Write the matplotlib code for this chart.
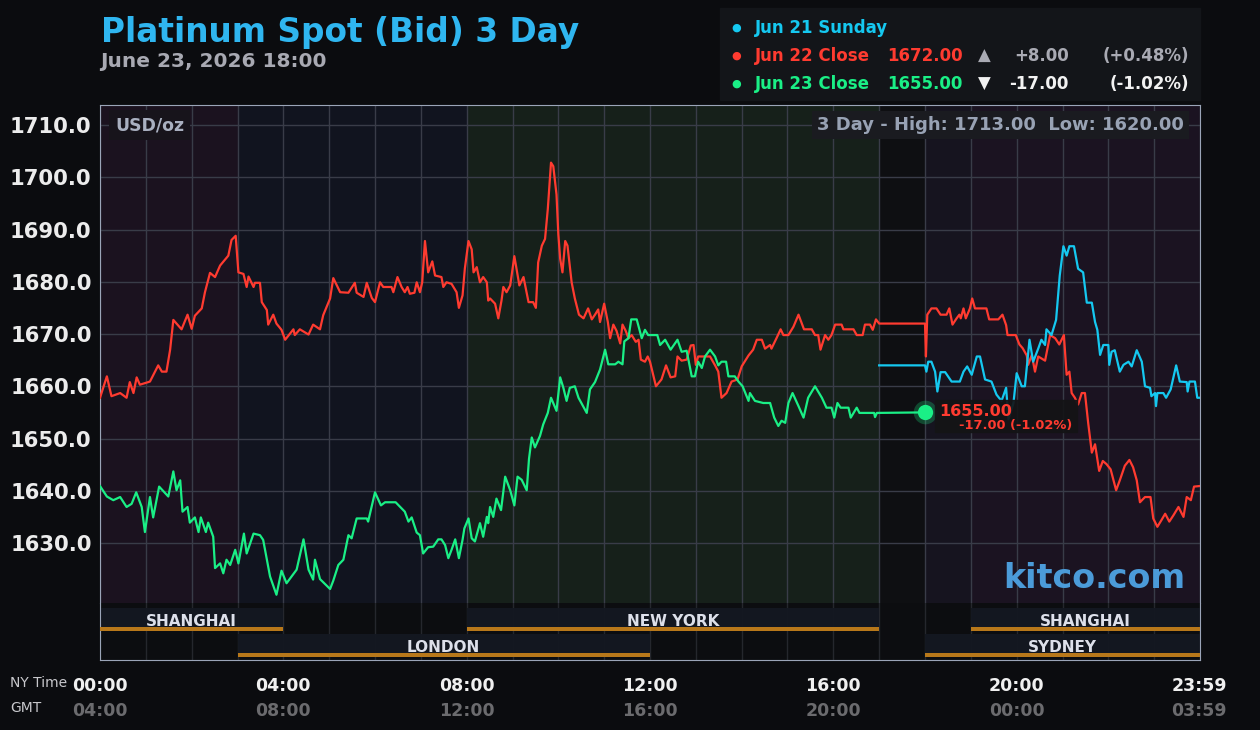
import matplotlib
matplotlib.use("Agg")
import matplotlib.pyplot as plt
from matplotlib.patches import Rectangle
from matplotlib.transforms import blended_transform_factory

# ---- data (hours in NY time, price in USD/oz) ----
red_t = [0.00, 0.15, 0.25, 0.44, 0.58, 0.65, 0.73, 0.80, 0.87, 1.09, 1.27, 1.35, 1.45, 1.53, 1.60, 1.78, 1.91,
         2.00, 2.07, 2.22, 2.29, 2.40, 2.51, 2.62, 2.80, 2.87, 2.96, 3.02, 3.13, 3.20, 3.24, 3.35, 3.38, 3.49,
         3.53, 3.64, 3.67, 3.78, 3.85, 3.96, 4.04, 4.22, 4.25, 4.36, 4.55, 4.65, 4.80, 4.87, 5.02, 5.09, 5.24,
         5.42, 5.56, 5.60, 5.75, 5.82, 5.93, 6.00, 6.11, 6.18, 6.36, 6.40, 6.49, 6.58, 6.65, 6.71, 6.76, 6.86,
         6.91, 6.98, 7.03, 7.09, 7.16, 7.25, 7.31, 7.45, 7.49, 7.56, 7.67, 7.78, 7.83, 7.91, 7.96, 8.04, 8.11,
         8.15, 8.22, 8.29, 8.36, 8.44, 8.47, 8.51, 8.62, 8.69, 8.76, 8.80, 8.87, 8.95, 9.04, 9.15, 9.24, 9.35,
         9.45, 9.51, 9.56, 9.64, 9.71, 9.77, 9.84, 9.89, 9.96, 10.00, 10.04, 10.09, 10.15, 10.20, 10.29, 10.36,
         10.45, 10.55, 10.65, 10.73, 10.80, 10.87, 10.91, 11.00, 11.08, 11.13, 11.20, 11.27, 11.35, 11.40,
         11.47, 11.53, 11.60, 11.69, 11.75, 11.80, 11.89, 11.95, 12.00, 12.13, 12.25, 12.35, 12.45, 12.55,
         12.60, 12.69, 12.80, 12.89, 12.95, 13.00, 13.05, 13.20, 13.31, 13.42, 13.49, 13.56, 13.67, 13.78,
         13.91, 14.00, 14.15, 14.25, 14.33, 14.44, 14.51, 14.62, 14.65, 14.76, 14.85, 14.91, 15.02, 15.13,
         15.24, 15.36, 15.53, 15.60, 15.67, 15.72, 15.82, 15.89, 15.96, 16.04, 16.18, 16.22, 16.44, 16.51,
         16.64, 16.69, 16.80, 16.86, 16.93, 17.00, 18.00, 18.02, 18.05, 18.14, 18.25, 18.34, 18.47, 18.53,
         18.60, 18.69, 18.75, 18.78, 18.84, 18.89, 18.98, 19.03, 19.09, 19.34, 19.40, 19.60, 19.69, 19.77,
         19.80, 19.98, 20.06, 20.13, 20.22, 20.25, 20.33, 20.40, 20.47, 20.62, 20.73, 20.84, 20.93, 21.03,
         21.09, 21.15, 21.20, 21.27, 21.34, 21.42, 21.49, 21.56, 21.64, 21.71, 21.80, 21.88, 21.96, 22.05,
         22.17, 22.25, 22.36, 22.46, 22.54, 22.62, 22.69, 22.80, 22.92, 22.98, 23.07, 23.16, 23.24, 23.33,
         23.42, 23.53, 23.64, 23.71, 23.80, 23.87, 23.99]
red_v = [1657.8, 1661.9, 1658.1, 1658.7, 1657.8, 1660.8, 1658.7, 1661.7, 1660.3, 1660.9, 1664.0, 1662.8, 1662.8,
         1667.0, 1672.7, 1670.9, 1673.7, 1671.0, 1673.5, 1674.9, 1678.0, 1681.7, 1680.9, 1683.1, 1685.0, 1688.0,
         1688.8, 1681.8, 1681.5, 1679.0, 1681.0, 1679.0, 1679.8, 1679.8, 1676.1, 1674.6, 1671.8, 1673.7, 1672.0,
         1670.8, 1668.9, 1670.9, 1669.8, 1670.9, 1669.9, 1671.8, 1670.9, 1673.6, 1676.8, 1680.7, 1678.0, 1677.9,
         1679.8, 1677.9, 1677.1, 1679.8, 1676.9, 1676.1, 1679.9, 1679.0, 1679.0, 1678.0, 1680.9, 1679.0, 1678.0,
         1679.0, 1677.7, 1677.9, 1679.9, 1678.0, 1679.9, 1687.8, 1681.8, 1683.9, 1681.2, 1680.9, 1679.0, 1679.9,
         1679.6, 1678.0, 1675.0, 1677.4, 1682.5, 1687.8, 1686.2, 1681.8, 1682.8, 1679.9, 1680.9, 1679.9, 1676.4,
         1676.8, 1675.8, 1673.0, 1676.4, 1679.0, 1678.0, 1679.3, 1684.9, 1679.3, 1680.9, 1676.1, 1676.1, 1675.0,
         1683.7, 1686.9, 1688.2, 1693.9, 1702.8, 1702.1, 1696.7, 1689.1, 1684.4, 1681.8, 1687.8, 1686.9, 1679.9,
         1676.8, 1673.7, 1673.0, 1674.9, 1672.8, 1673.7, 1674.7, 1672.3, 1675.8, 1672.3, 1669.2, 1671.8, 1670.6,
         1668.2, 1671.8, 1670.6, 1669.2, 1669.8, 1668.5, 1668.9, 1665.1, 1664.7, 1665.7, 1664.7, 1660.0, 1661.3,
         1664.0, 1661.7, 1661.9, 1665.7, 1664.9, 1665.1, 1667.8, 1667.9, 1664.1, 1665.7, 1665.7, 1665.7, 1664.0,
         1662.8, 1657.8, 1658.7, 1660.9, 1661.3, 1663.8, 1665.9, 1667.0, 1668.9, 1668.9, 1667.2, 1667.9, 1667.2,
         1669.2, 1670.9, 1669.8, 1669.8, 1671.4, 1673.7, 1670.9, 1670.9, 1669.8, 1669.8, 1667.0, 1669.8, 1668.9,
         1669.8, 1671.8, 1671.8, 1670.9, 1670.9, 1669.8, 1669.8, 1671.8, 1671.8, 1670.8, 1672.8, 1672.0, 1672.0,
         1665.7, 1673.7, 1674.9, 1674.9, 1673.7, 1673.7, 1674.9, 1671.8, 1673.0, 1673.7, 1673.0, 1674.9, 1673.0,
         1674.9, 1676.8, 1674.9, 1674.9, 1672.8, 1672.8, 1673.7, 1671.7, 1669.8, 1669.8, 1668.0, 1667.3, 1665.9,
         1664.1, 1666.0, 1662.8, 1665.7, 1664.9, 1669.8, 1669.2, 1668.0, 1669.8, 1662.2, 1662.8, 1658.7, 1657.8,
         1656.5, 1658.7, 1658.7, 1653.0, 1647.3, 1648.9, 1643.8, 1645.7, 1645.1, 1644.1, 1640.1, 1642.0, 1644.8,
         1645.9, 1644.5, 1642.0, 1637.8, 1638.8, 1638.8, 1634.7, 1633.1, 1634.4, 1635.6, 1634.1, 1635.3, 1636.9,
         1635.0, 1638.8, 1638.2, 1640.8, 1640.9]

green_t = [0.00, 0.15, 0.29, 0.44, 0.58, 0.69, 0.79, 0.91, 0.98, 1.09, 1.16, 1.29, 1.49, 1.60, 1.67, 1.75, 1.80,
           1.91, 1.96, 2.07, 2.15, 2.20, 2.31, 2.36, 2.47, 2.51, 2.62, 2.69, 2.76, 2.84, 2.95, 3.02, 3.14, 3.20,
           3.35, 3.49, 3.56, 3.71, 3.85, 3.96, 4.07, 4.29, 4.44, 4.55, 4.65, 4.69, 4.80, 5.02, 5.09, 5.20, 5.31,
           5.42, 5.49, 5.60, 5.82, 5.85, 6.00, 6.13, 6.22, 6.36, 6.45, 6.55, 6.65, 6.73, 6.80, 6.91, 6.98, 7.05,
           7.16, 7.27, 7.38, 7.45, 7.53, 7.60, 7.67, 7.75, 7.83, 7.91, 7.95, 8.04, 8.11, 8.18, 8.29, 8.36, 8.44,
           8.47, 8.51, 8.58, 8.65, 8.75, 8.84, 8.95, 9.04, 9.11, 9.20, 9.31, 9.36, 9.42, 9.49, 9.60, 9.67, 9.77,
           9.84, 9.96, 10.04, 10.11, 10.18, 10.25, 10.36, 10.44, 10.52, 10.62, 10.69, 10.80, 10.91, 11.02, 11.09,
           11.24, 11.31, 11.40, 11.44, 11.53, 11.59, 11.71, 11.82, 11.89, 11.96, 12.16, 12.22, 12.33, 12.45,
           12.60, 12.69, 12.80, 12.91, 12.98, 13.05, 13.13, 13.20, 13.31, 13.42, 13.49, 13.56, 13.66, 13.71,
           13.85, 13.93, 14.02, 14.15, 14.18, 14.29, 14.47, 14.62, 14.71, 14.80, 14.87, 14.95, 15.02, 15.11,
           15.24, 15.35, 15.45, 15.60, 15.75, 15.85, 15.96, 16.02, 16.09, 16.16, 16.33, 16.38, 16.51, 16.57,
           16.89, 16.91, 16.95, 18.00]
green_v = [1640.9, 1638.9, 1638.2, 1638.8, 1636.9, 1637.5, 1639.7, 1636.9, 1632.1, 1638.8, 1634.9, 1640.8, 1638.9,
           1643.7, 1640.1, 1642.0, 1636.0, 1636.9, 1633.9, 1634.9, 1632.1, 1634.9, 1632.1, 1633.9, 1631.2, 1625.2,
           1626.1, 1624.2, 1626.8, 1625.8, 1628.7, 1626.1, 1631.8, 1628.0, 1631.8, 1631.5, 1630.6, 1623.6, 1620.1,
           1624.7, 1622.3, 1624.9, 1630.7, 1624.9, 1623.0, 1626.8, 1623.1, 1621.2, 1622.8, 1625.8, 1626.8, 1631.5,
           1630.9, 1634.7, 1634.7, 1634.1, 1639.7, 1637.2, 1637.8, 1637.8, 1637.8, 1636.9, 1636.0, 1634.1, 1634.9,
           1632.0, 1631.5, 1628.0, 1629.2, 1629.3, 1630.7, 1630.7, 1629.6, 1627.1, 1628.7, 1630.7, 1627.1, 1630.6,
           1632.8, 1634.7, 1630.9, 1630.3, 1633.8, 1631.2, 1635.0, 1633.8, 1636.9, 1635.0, 1638.5, 1636.3, 1642.7,
           1640.1, 1637.2, 1642.7, 1642.1, 1640.1, 1646.1, 1650.2, 1648.3, 1650.5, 1652.7, 1654.9, 1657.8, 1655.3,
           1661.7, 1659.7, 1657.2, 1659.7, 1660.0, 1657.8, 1656.5, 1654.9, 1659.4, 1660.8, 1663.2, 1667.0, 1664.2,
           1664.2, 1664.7, 1664.2, 1668.6, 1669.2, 1672.8, 1672.8, 1669.2, 1670.8, 1669.8, 1669.8, 1667.9, 1668.9,
           1667.0, 1668.9, 1666.6, 1666.8, 1661.9, 1661.9, 1664.7, 1663.5, 1665.7, 1667.0, 1665.7, 1664.0, 1664.7,
           1664.7, 1661.9, 1661.9, 1660.9, 1660.0, 1657.2, 1658.7, 1657.2, 1656.8, 1656.8, 1654.0, 1652.4, 1653.4,
           1653.0, 1656.8, 1658.7, 1656.2, 1654.0, 1657.8, 1660.0, 1657.8, 1655.9, 1655.9, 1654.0, 1656.8, 1655.9,
           1655.9, 1654.0, 1655.9, 1654.9, 1654.9, 1654.1, 1654.9, 1655.0]

blue_t = [17.00, 18.00, 18.03, 18.07, 18.14, 18.22, 18.27, 18.34, 18.44, 18.58, 18.76, 18.84, 18.92, 19.02, 19.13,
          19.20, 19.31, 19.45, 19.56, 19.67, 19.77, 19.82, 19.93, 20.00, 20.11, 20.18, 20.28, 20.36, 20.47, 20.54,
          20.62, 20.65, 20.76, 20.86, 20.94, 21.02, 21.09, 21.15, 21.25, 21.34, 21.45, 21.53, 21.64, 21.71, 21.76,
          21.82, 21.89, 22.00, 22.02, 22.07, 22.14, 22.25, 22.33, 22.44, 22.51, 22.62, 22.73, 22.80, 22.91, 22.94,
          23.02, 23.04, 23.07, 23.20, 23.26, 23.36, 23.48, 23.56, 23.71, 23.73, 23.77, 23.89, 23.94, 23.99]
blue_v = [1664.0, 1664.0, 1662.8, 1664.7, 1664.7, 1662.8, 1659.0, 1662.7, 1662.7, 1660.9, 1660.9, 1662.8, 1663.8,
          1662.2, 1665.7, 1665.7, 1661.3, 1660.9, 1658.4, 1657.2, 1659.7, 1653.7, 1656.8, 1662.5, 1660.0, 1660.0,
          1668.9, 1664.7, 1667.2, 1668.9, 1667.9, 1670.9, 1669.8, 1672.7, 1681.2, 1686.8, 1685.0, 1686.8, 1686.8,
          1682.5, 1681.8, 1676.0, 1676.0, 1672.3, 1670.8, 1666.0, 1667.9, 1667.9, 1664.1, 1666.6, 1666.9, 1662.8,
          1664.1, 1664.7, 1663.8, 1666.9, 1664.7, 1660.0, 1659.7, 1658.1, 1658.7, 1656.2, 1658.7, 1658.7, 1657.8,
          1659.4, 1664.0, 1660.9, 1660.8, 1659.0, 1660.9, 1660.9, 1657.8, 1657.8]

# background shading by time of day
band_start = [0, 3, 8, 17, 18, 19]
band_end = [3, 8, 17, 18, 19, 24]
band_color = ['#1b121f', '#11141f', '#16201a', '#0e0f12', '#16141f', '#1b1321']

# trading sessions: name, start, end, row
sess_name = ['SHANGHAI', 'LONDON', 'NEW YORK', 'SHANGHAI', 'SYDNEY']
sess_start = [0, 3, 8, 19, 18]
sess_end = [4, 12, 17, 24, 24]
sess_row = [0, 1, 0, 0, 1]

tick_hours = [0, 4, 8, 12, 16, 20, 23.983]
ny_labels = ['00:00', '04:00', '08:00', '12:00', '16:00', '20:00', '23:59']
gmt_labels = ['04:00', '08:00', '12:00', '16:00', '20:00', '00:00', '03:59']

last_t = 18.0
last_v = 1655.00

RED = '#ff3b30'
GREEN = '#1aef86'
BLUE = '#15c8f0'
W, H = 1260, 730


def fx(x):
    return x / W


def fy(y):
    return 1 - y / H


fig = plt.figure(figsize=(12.6, 7.3), dpi=100, facecolor='#0b0c0f')
ax = fig.add_axes([fx(100), fy(603), fx(1100), (603 - 105) / H])
axs = fig.add_axes([fx(100), fy(660), fx(1100), (660 - 603) / H], sharex=ax)

# main chart
ax.set_facecolor('#0e0f12')
for s, e, c in zip(band_start, band_end, band_color):
    ax.axvspan(s, e, color=c, zorder=0, lw=0)
ax.set_xlim(0, 24)
ax.set_ylim(1618.52, 1713.83)
ax.set_xticks(range(25))
ax.set_yticks(range(1630, 1711, 10))
ax.set_yticklabels(['%.1f' % v for v in range(1630, 1711, 10)])
ax.grid(True, color='#393c48', lw=1, zorder=1)
ax.tick_params(axis='both', length=0, labelbottom=False)
ax.tick_params(axis='y', pad=6, labelsize=15.2, labelcolor='#ececec')
for lab in ax.get_yticklabels():
    lab.set_fontweight('bold')
for sp in ['top', 'left', 'right']:
    ax.spines[sp].set_color('#9ba5b8')
ax.spines['bottom'].set_visible(False)

ax.plot(red_t, red_v, color=RED, lw=1.6, zorder=3)
ax.plot(green_t, green_v, color=GREEN, lw=1.6, zorder=3)
ax.plot(blue_t, blue_v, color=BLUE, lw=1.6, zorder=3)

# last price marker
ax.plot([last_t], [last_v], 'o', ms=17, color=GREEN, alpha=0.25, mec='none', zorder=5)
ax.plot([last_t], [last_v], 'o', ms=11, color=GREEN, mec='none', zorder=6)
fig.patches.append(Rectangle((fx(935), fy(432)), fx(142), 32 / H, transform=fig.transFigure,
                             color='#141416', alpha=0.92, zorder=4))
fig.text(fx(939), fy(411), '%.2f' % last_v, color=RED, fontsize=11.5, fontweight='bold',
         va='center', ha='left', zorder=6)
fig.text(fx(959), fy(425), '-17.00 (-1.02%)', color=RED, fontsize=9.4, fontweight='bold',
         va='center', ha='left', zorder=6)

# in-plot labels
fig.text(fx(115), fy(125), 'USD/oz', color='#a9b0c0', fontsize=12.4, fontweight='bold',
         va='center', ha='left', bbox=dict(boxstyle='square,pad=0.35', fc='#17141b', ec='none'))
fig.text(fx(1184), fy(125), '3 Day - High: 1713.00  Low: 1620.00', color='#98a2b4', fontsize=13,
         fontweight='bold', ha='right', va='center',
         bbox=dict(boxstyle='square,pad=0.3', fc='#1a1b20', ec='none'))
fig.text(fx(1185), fy(578), 'kitco.com', color='#4b9bd9', fontsize=24, fontweight='bold',
         ha='right', va='center')

# session bars
axs.set_facecolor('#0c0d10')
axs.set_ylim(57, 0)
axs.set_xticks(range(25))
axs.grid(True, axis='x', color='#25272d', lw=1)
axs.tick_params(axis='both', length=0, labelbottom=False, labelleft=False)
for sp in ['bottom', 'left', 'right']:
    axs.spines[sp].set_color('#9ba5b8')
axs.spines['top'].set_visible(False)
for name, s, e, r in zip(sess_name, sess_start, sess_end, sess_row):
    top = 5 + r * 26
    axs.add_patch(Rectangle((s, top), e - s, 22, color='#141821', alpha=0.95, lw=0, zorder=2))
    axs.add_patch(Rectangle((s, top + 18.5), e - s, 4, color='#b8781a', lw=0, zorder=3))
    axs.text((s + e) / 2, top + 13, name, color='#dde0ea', fontsize=11, fontweight='bold',
             ha='center', va='center', zorder=4)

# time axis labels
tr = blended_transform_factory(axs.transData, fig.transFigure)
for h, ny, gmt in zip(tick_hours, ny_labels, gmt_labels):
    fig.text(h, fy(686), ny, transform=tr, color='#f0f0f0', fontsize=12.5,
             fontweight='bold', ha='center', va='center')
    fig.text(h, fy(711), gmt, transform=tr, color='#6b6b6e', fontsize=12.5,
             fontweight='bold', ha='center', va='center')
fig.text(fx(10), fy(683), 'NY Time', color='#c8c8cc', fontsize=10, ha='left', va='center')
fig.text(fx(10), fy(708), 'GMT', color='#c8c8cc', fontsize=10, ha='left', va='center')

# title
fig.text(fx(101), fy(42), 'Platinum Spot (Bid) 3 Day', color='#2fb6f0', fontsize=23.6,
         fontweight='bold', ha='left', va='baseline')
fig.text(fx(100), fy(67), 'June 23, 2026 18:00', color='#a8a9b2', fontsize=14.5,
         fontweight='bold', ha='left', va='baseline')

# legend box
fig.patches.append(Rectangle((fx(720), fy(100)), fx(480), 92 / H, transform=fig.transFigure,
                             color='#131519', zorder=0))
rows = [
    (28, BLUE, 'Jun 21 Sunday', None, None, None, None, None),
    (56, RED, 'Jun 22 Close', '1672.00', '\u25b2', '+8.00', '(+0.48%)', '#a9aab3'),
    (84, GREEN, 'Jun 23 Close', '1655.00', '\u25bc', '-17.00', '(-1.02%)', '#f2f2f2'),
]
for y, c, name, price, arrow, chg, pct, cc in rows:
    fig.text(fx(736), fy(y), '\u25cf', color=c, fontsize=8, ha='center', va='center')
    fig.text(fx(755), fy(y), name, color=c, fontsize=12, fontweight='bold', ha='left', va='center')
    if price is None:
        continue
    fig.text(fx(887), fy(y), price, color=c, fontsize=12, fontweight='bold', ha='left', va='center')
    fig.text(fx(984), fy(y), arrow, color=cc, fontsize=12, ha='center', va='center')
    fig.text(fx(1069), fy(y), chg, color=cc, fontsize=12, fontweight='bold', ha='right', va='center')
    fig.text(fx(1189), fy(y), pct, color=cc, fontsize=12, fontweight='bold', ha='right', va='center')

fig.savefig('out.png', dpi=100, facecolor=fig.get_facecolor())
